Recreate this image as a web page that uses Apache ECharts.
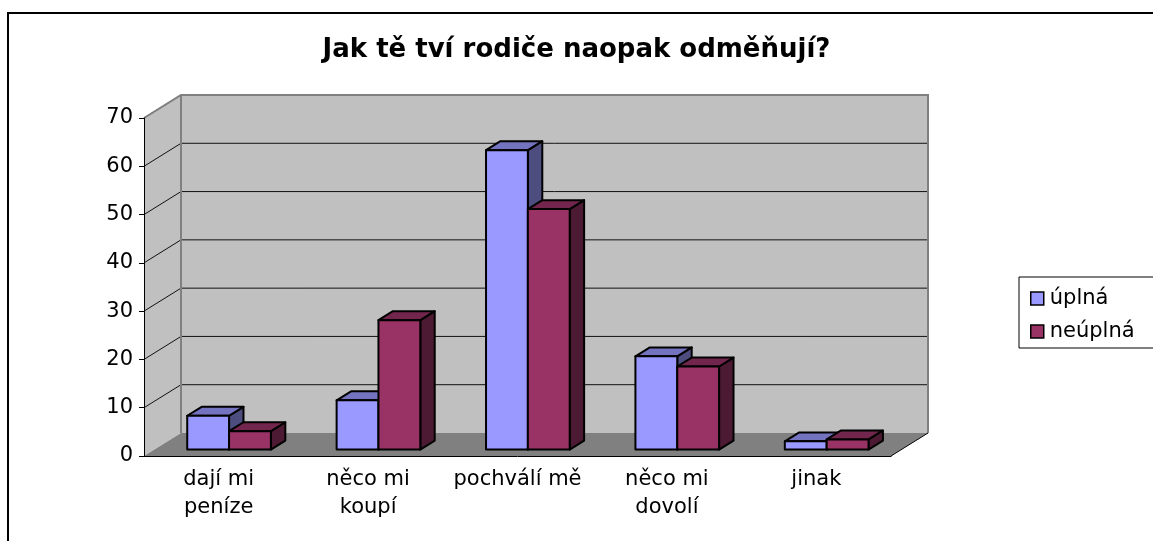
<!DOCTYPE html>
<html>
<head>
<meta charset="utf-8">
<script src="https://cdn.jsdelivr.net/npm/echarts@6/dist/echarts.min.js"></script>
<style>
  html, body { margin: 0; padding: 0; background: #fff; }
  #chart { width: 1153px; height: 541px; }
</style>
</head>
<body>
<div id="chart"></div>
<script>
// data
const categories = ["dají mi\npeníze", "něco mi\nkoupí", "pochválí mě", "něco mi\ndovolí", "jinak"];
const uplnaValues = [7, 10.2, 62, 19.3, 1.7];
const neuplnaValues = [3.8, 26.8, 49.8, 17.2, 2.1];
const seriesNames = ["úplná", "neúplná"];
const yMax = 70;
const yStep = 10;

const FONT = "DejaVu Sans";
// depth of the fake 3d box, in px
const DEPTH_X = 37;
const DEPTH_Y = -23;
const BAR_FRONT = 0.28;   // where the bar front sits inside the depth
const BAR_DEEP = 0.39;    // how deep a bar is
const BAR_W = 0.28;       // bar width as a part of the category band

const chart = echarts.init(document.getElementById("chart"));

// back wall, side wall, floor and their grid lines
const renderWalls = (params, api) => {
  const n = categories.length;
  const p0 = api.coord([0, 0]);
  const bw = api.size([1, 0])[0];
  const left = p0[0] - bw / 2;
  const right = left + bw * n;
  const bottom = p0[1];
  const top = api.coord([0, yMax])[1];
  const dx = DEPTH_X, dy = DEPTH_Y;
  const kids = [];
  // side wall
  kids.push({
    type: "polygon",
    shape: { points: [[left, top], [left + dx, top + dy], [left + dx, bottom + dy], [left, bottom]] },
    style: { fill: "#c0c0c0" },
  });
  // back wall
  kids.push({
    type: "rect",
    shape: { x: left + dx, y: top + dy, width: right - left, height: bottom - top },
    style: { fill: "#c0c0c0" },
  });
  // grid lines
  for (let v = yStep; v <= yMax; v += yStep) {
    const y = api.coord([0, v])[1];
    if (v < yMax) {
      kids.push({
        type: "line",
        shape: { x1: left + dx, y1: y + dy, x2: right + dx, y2: y + dy },
        style: { stroke: "#111", lineWidth: 1 },
      });
    }
    kids.push({
      type: "line",
      shape: { x1: left, y1: y, x2: left + dx, y2: y + dy },
      style: { stroke: "#111", lineWidth: 1 },
    });
  }
  // floor
  kids.push({
    type: "polygon",
    shape: { points: [[left, bottom], [left + dx, bottom + dy], [right + dx, bottom + dy], [right, bottom]] },
    style: { fill: "#808080" },
  });
  // edges of the walls
  kids.push({
    type: "polyline",
    shape: { points: [[left, top], [left + dx, top + dy], [right + dx, top + dy], [right + dx, bottom + dy]] },
    style: { stroke: "#808080", lineWidth: 2, fill: null },
  });
  kids.push({
    type: "line",
    shape: { x1: left + dx, y1: top + dy, x2: left + dx, y2: bottom + dy },
    style: { stroke: "#808080", lineWidth: 2 },
  });
  kids.push({
    type: "line",
    shape: { x1: right, y1: bottom, x2: right + dx, y2: bottom + dy },
    style: { stroke: "#000", lineWidth: 1 },
  });
  return { type: "group", children: kids };
};

// one 3d bar: front, top and right side
const makeBarRender = (idx, front, topC, sideC) => (params, api) => {
  const c = api.value(0);
  const v = api.value(1);
  const base = api.coord([c, 0]);
  const tip = api.coord([c, v]);
  const bw = api.size([1, 0])[0];
  const w = bw * BAR_W;
  const fx = DEPTH_X * BAR_FRONT, fy = DEPTH_Y * BAR_FRONT;
  const bx = DEPTH_X * BAR_DEEP, by = DEPTH_Y * BAR_DEEP;
  const x0 = base[0] - w + idx * w + fx;
  const x1 = x0 + w;
  const yb = base[1] + fy;
  const yt = tip[1] + fy;
  const edge = { stroke: "#000", lineWidth: 2, lineJoin: "round" };
  return {
    type: "group",
    children: [
      {
        type: "polygon",
        shape: { points: [[x1, yt], [x1 + bx, yt + by], [x1 + bx, yb + by], [x1, yb]] },
        style: Object.assign({ fill: sideC }, edge),
      },
      {
        type: "polygon",
        shape: { points: [[x0, yt], [x0 + bx, yt + by], [x1 + bx, yt + by], [x1, yt]] },
        style: Object.assign({ fill: topC }, edge),
      },
      {
        type: "rect",
        shape: { x: x0, y: yt, width: w, height: yb - yt },
        style: Object.assign({ fill: front }, edge),
      },
    ],
  };
};

const option = {
  animation: false,
  textStyle: { fontFamily: FONT },
  title: {
    text: "Jak tě tví rodiče naopak odměňují?",
    left: "center",
    top: 32,
    textStyle: { fontFamily: FONT, fontSize: 26, fontWeight: "bold", color: "#000" },
  },
  legend: {
    data: seriesNames,
    orient: "vertical",
    left: 1019,
    top: 277,
    padding: [11, 40, 6, 11],
    itemWidth: 13,
    itemHeight: 13,
    itemGap: 12,
    icon: "rect",
    borderColor: "#000",
    borderWidth: 1,
    itemStyle: { borderColor: "#000", borderWidth: 1.5 },
    textStyle: { fontFamily: FONT, fontSize: 21, color: "#000", padding: [0, 0, 0, 1] },
  },
  graphic: [
    {
      type: "rect",
      shape: { x: 8, y: 13, width: 1300, height: 700 },
      style: { fill: null, stroke: "#000", lineWidth: 2 },
      silent: true,
    },
  ],
  grid: { left: 144, right: 262, top: 118, bottom: 85 },
  xAxis: {
    type: "category",
    data: categories,
    z: 5,
    axisLine: { lineStyle: { color: "#000", width: 1 } },
    axisTick: { length: 6, lineStyle: { color: "#000" } },
    axisLabel: { fontFamily: FONT, fontSize: 21, color: "#000", margin: 10, lineHeight: 28, interval: 0 },
    splitLine: { show: false },
  },
  yAxis: {
    type: "value",
    min: 0,
    max: yMax,
    interval: yStep,
    z: 5,
    axisLine: { show: true, lineStyle: { color: "#000", width: 1 } },
    axisTick: { show: true, length: 5, lineStyle: { color: "#000" } },
    axisLabel: { fontFamily: FONT, fontSize: 21, color: "#000", margin: 11 },
    splitLine: { show: false },
  },
  series: [
    {
      name: "walls",
      type: "custom",
      z: 1,
      silent: true,
      renderItem: renderWalls,
      data: [[0, 0]],
    },
    {
      name: seriesNames[0],
      type: "custom",
      z: 2,
      color: "#9999ff",
      itemStyle: { color: "#9999ff" },
      renderItem: makeBarRender(0, "#9999ff", "#7373bf", "#4d4d80"),
      data: uplnaValues.map((v, i) => [i, v]),
    },
    {
      name: seriesNames[1],
      type: "custom",
      z: 3,
      color: "#993366",
      itemStyle: { color: "#993366" },
      renderItem: makeBarRender(1, "#993366", "#73264d", "#4d1a33"),
      data: neuplnaValues.map((v, i) => [i, v]),
    },
  ],
};

chart.setOption(option);
window.addEventListener("resize", () => {
  chart.resize();
});
</script>
</body>
</html>
